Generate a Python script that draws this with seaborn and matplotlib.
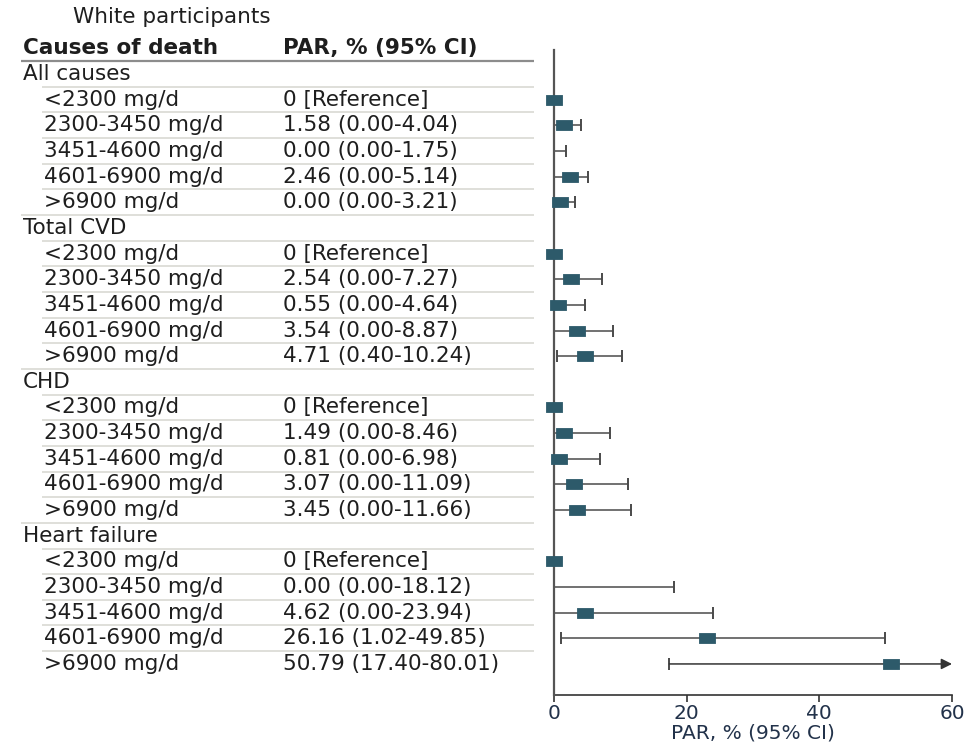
import numpy as np
import pandas as pd
import matplotlib
matplotlib.use("Agg")
import matplotlib.pyplot as plt
import matplotlib.transforms as mtransforms
from matplotlib.path import Path
import seaborn as sns

nan = np.nan

# ---------------- data ----------------
title = "White participants"
col_headers = ["Causes of death", "PAR, % (95% CI)"]
groups = ["All causes", "Total CVD", "CHD", "Heart failure"]
levels = ["<2300 mg/d", "2300-3450 mg/d", "3451-4600 mg/d", "4601-6900 mg/d", ">6900 mg/d"]

par_all = ["0 [Reference]", "1.58 (0.00-4.04)", "0.00 (0.00-1.75)", "2.46 (0.00-5.14)", "0.00 (0.00-3.21)"]
par_cvd = ["0 [Reference]", "2.54 (0.00-7.27)", "0.55 (0.00-4.64)", "3.54 (0.00-8.87)", "4.71 (0.40-10.24)"]
par_chd = ["0 [Reference]", "1.49 (0.00-8.46)", "0.81 (0.00-6.98)", "3.07 (0.00-11.09)", "3.45 (0.00-11.66)"]
par_hf = ["0 [Reference]", "0.00 (0.00-18.12)", "4.62 (0.00-23.94)", "26.16 (1.02-49.85)", "50.79 (17.40-80.01)"]

# plotted point estimates (nan = no square drawn)
est_all = [0.0, 1.5, nan, 2.4, 0.9]
est_cvd = [0.0, 2.54, 0.55, 3.54, 4.71]
est_chd = [0.0, 1.49, 0.81, 3.07, 3.45]
est_hf = [0.0, nan, 4.62, 23.1, 50.79]

lo_all = [nan, 0.0, 0.0, 0.0, 0.0]
hi_all = [nan, 4.04, 1.75, 5.14, 3.21]
lo_cvd = [nan, 0.0, 0.0, 0.0, 0.40]
hi_cvd = [nan, 7.27, 4.64, 8.87, 10.24]
lo_chd = [nan, 0.0, 0.0, 0.0, 0.0]
hi_chd = [nan, 8.46, 6.98, 11.09, 11.66]
lo_hf = [nan, 0.0, 0.0, 1.02, 17.40]
hi_hf = [nan, 18.12, 23.94, 49.85, 80.01]

x_ticks = [0, 20, 40, 60]
x_label = "PAR, % (95% CI)"

# ---------------- table of rows ----------------
pars = [par_all, par_cvd, par_chd, par_hf]
ests = [est_all, est_cvd, est_chd, est_hf]
los = [lo_all, lo_cvd, lo_chd, lo_hf]
his = [hi_all, hi_cvd, hi_chd, hi_hf]

records = []
r = 0
for g, p, e, lo, hi in zip(groups, pars, ests, los, his):
    records.append(dict(row=r, kind="group", label=g, par="", est=nan, lo=nan, hi=nan))
    r += 1
    for lev, pp, ee, ll, hh in zip(levels, p, e, lo, hi):
        records.append(dict(row=r, kind="level", label=lev, par=pp, est=ee, lo=ll, hi=hh))
        r += 1
df = pd.DataFrame(records)
n_rows = len(df)

# ---------------- figure ----------------
sns.set_theme(style="white")
plt.rcParams["font.family"] = ["DejaVu Sans"]

W, H = 977, 744
fig = plt.figure(figsize=(W / 100, H / 100), dpi=100)
fig.patch.set_facecolor("white")

ax_l, ax_r, ax_t, ax_b = 554, 952, 50, 695
ax = fig.add_axes([ax_l / W, 1 - ax_b / H, (ax_r - ax_l) / W, (ax_b - ax_t) / H])

row0_px, row_step = 74.0, 25.65
ax.set_xlim(x_ticks[0], x_ticks[-1])
ax.set_ylim((ax_b - row0_px) / row_step, (ax_t - row0_px) / row_step)

sq_col = "#2d5a6a"
line_col = "#4a4a4a"
text_col = "#1e1e1e"
tick_col = "#22324a"

xmax = ax.get_xlim()[1]

# CI lines
ci = df.dropna(subset=["lo", "hi"])
inside = ci[ci["hi"] <= xmax]
outside = ci[ci["hi"] > xmax]
ax.hlines(inside["row"], inside["lo"], inside["hi"], color=line_col, lw=1.1, zorder=3)
ax.plot(inside["hi"], inside["row"], ls="none", marker="|", ms=9, mew=1.4, color=line_col, zorder=3)
lo_caps = ci[ci["lo"] > 0]
ax.plot(lo_caps["lo"], lo_caps["row"], ls="none", marker="|", ms=9, mew=1.4, color=line_col, zorder=3)
for _, rr in outside.iterrows():
    ax.annotate("", xy=(xmax, rr["row"]), xytext=(rr["lo"], rr["row"]),
                arrowprops=dict(arrowstyle="-|>", color="#333333", lw=1.1,
                                mutation_scale=16, shrinkA=0, shrinkB=0),
                annotation_clip=False, zorder=3)

# squares
rect = Path([(-1, -0.63), (1, -0.63), (1, 0.63), (-1, 0.63), (-1, -0.63)],
            [Path.MOVETO, Path.LINETO, Path.LINETO, Path.LINETO, Path.CLOSEPOLY])
pts = df.dropna(subset=["est"])
sns.scatterplot(data=pts, x="est", y="row", marker=rect, s=125, color=sq_col,
                edgecolor=sq_col, linewidth=0.6, ax=ax, legend=False, zorder=5, clip_on=False)

# axes styling
sns.despine(ax=ax, top=True, right=True)
ax.spines["left"].set_color("#555555")
ax.spines["left"].set_linewidth(1.6)
ax.spines["left"].set_zorder(4)
ax.spines["bottom"].set_color("#333333")
ax.spines["bottom"].set_linewidth(1.2)
ax.set_xticks(x_ticks)
ax.set_yticks([])
ax.tick_params(axis="x", bottom=True, length=5, width=1.2, color="#333333",
               labelsize=14.5, labelcolor=tick_col, pad=1.5)
ax.set_xlabel(x_label, fontsize=14.5, color=tick_col, labelpad=0)
ax.set_ylabel("")

# ---------------- table text ----------------
tr = mtransforms.blended_transform_factory(fig.transFigure, ax.transData)
fx = lambda px: px / W
fs = 15.5

ax.text(fx(73), (17 - row0_px) / row_step, title, transform=tr, fontsize=fs,
        color=text_col, va="center", ha="left", clip_on=False)
hy = (48 - row0_px) / row_step
ax.text(fx(23), hy, col_headers[0], transform=tr, fontsize=fs, fontweight="bold",
        color=text_col, va="center", ha="left", clip_on=False)
ax.text(fx(283), hy, col_headers[1], transform=tr, fontsize=fs, fontweight="bold",
        color=text_col, va="center", ha="left", clip_on=False)
ax.plot([fx(21), fx(534)], [(61 - row0_px) / row_step] * 2, transform=tr,
        color="#8c8c8c", lw=1.6, clip_on=False, solid_capstyle="butt")

for _, rr in df.iterrows():
    y = rr["row"]
    if rr["kind"] == "group":
        ax.text(fx(23), y, rr["label"], transform=tr, fontsize=fs, color=text_col,
                va="center", ha="left", clip_on=False)
    else:
        ax.text(fx(44), y, rr["label"], transform=tr, fontsize=fs, color=text_col,
                va="center", ha="left", clip_on=False)
        ax.text(fx(283), y, rr["par"], transform=tr, fontsize=fs, color=text_col,
                va="center", ha="left", clip_on=False)
    if y < n_rows - 1:
        nxt = df.loc[df["row"] == y + 1, "kind"].iloc[0]
        x0 = 21 if nxt == "group" else 42
        ax.plot([fx(x0), fx(534)], [y + 0.5] * 2, transform=tr, color="#d6d6cf",
                lw=1.1, clip_on=False, solid_capstyle="butt")

fig.savefig("out.png", dpi=100, facecolor="white")
